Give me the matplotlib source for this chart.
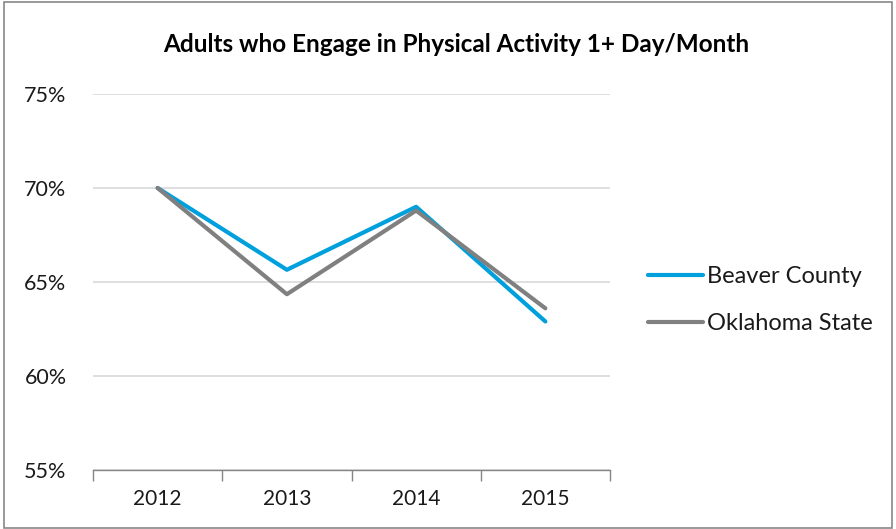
import matplotlib
matplotlib.use('Agg')
import matplotlib.pyplot as plt
from matplotlib.patches import Rectangle
from matplotlib.ticker import FixedLocator, PercentFormatter

# data
years = ['2012', '2013', '2014', '2015']
beaver = [70.0, 65.65, 69.0, 62.9]
oklahoma = [70.0, 64.35, 68.8, 63.6]
y_ticks = [55, 60, 65, 70, 75]

blue = '#00A0DC'
gray = '#808080'
txt = '#1a1a1a'

plt.rcParams['font.family'] = ['Lato', 'DejaVu Sans']

fig = plt.figure(figsize=(8.96, 5.29), dpi=100)
ax = fig.add_axes([93/896, 1 - 470/529, (610-93)/896, (470-94)/529])

x = range(len(years))
ax.plot(x, beaver, color=blue, lw=3.0, solid_capstyle='round', label='Beaver County', zorder=3)
ax.plot(x, oklahoma, color=gray, lw=3.0, solid_capstyle='round', label='Oklahoma State', zorder=3)

ax.set_xlim(-0.5, len(years) - 0.5)
ax.set_ylim(55, 75)
ax.set_yticks(y_ticks)
ax.yaxis.set_major_formatter(PercentFormatter(decimals=0))
ax.grid(axis='y', color='#d9d9d9', lw=1.2)
ax.set_axisbelow(True)

# ticks at category boundaries, labels at centres
ax.xaxis.set_major_locator(FixedLocator([i - 0.5 for i in range(len(years) + 1)]))
ax.xaxis.set_major_formatter(plt.NullFormatter())
ax.xaxis.set_minor_locator(FixedLocator(list(x)))
ax.set_xticklabels(years, minor=True)
ax.tick_params(axis='x', which='major', length=8, width=1, color='#868686')
ax.tick_params(axis='x', which='minor', length=0, pad=14, labelsize=15, labelcolor=txt)
ax.tick_params(axis='y', length=0, pad=19, labelsize=15.5, labelcolor=txt)

for s in ['top', 'right', 'left']:
    ax.spines[s].set_visible(False)
ax.spines['bottom'].set_color('#868686')
ax.spines['bottom'].set_linewidth(1)

fig.text(456/896, 1 - 45/529, 'Adults who Engage in Physical Activity 1+ Day/Month',
         ha='center', va='center', fontsize=17.5, fontweight='bold', color='black')

leg = ax.legend(loc='center left', bbox_to_anchor=(1.073, 0.451), frameon=False,
                fontsize=17, handlelength=2.33, handletextpad=0.2, labelspacing=1.1,
                borderpad=0, borderaxespad=0)
for t in leg.get_texts():
    t.set_color(txt)

fig.patches.append(Rectangle((0.004, 0.002), 0.992, 0.995, transform=fig.transFigure,
                             fill=False, edgecolor='#888888', lw=1.2))

fig.savefig('out.png', dpi=100)
